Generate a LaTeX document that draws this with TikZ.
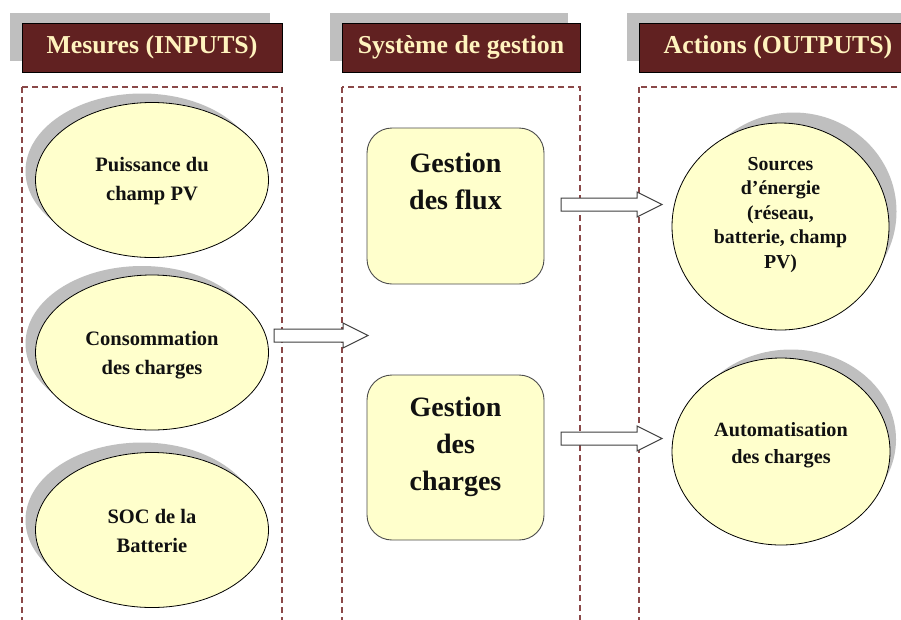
\documentclass[tikz,border=0pt]{standalone}
\usepackage{fontspec}
\setmainfont{Liberation Serif}
\usetikzlibrary{shapes.geometric,shadows}

\definecolor{hdrfill}{HTML}{612121}
\definecolor{hdrtext}{HTML}{FFF3BE}
\definecolor{shadowgray}{HTML}{BFBFBF}
\definecolor{framecol}{HTML}{8A4848}
\definecolor{cream}{HTML}{FFFFCC}
\definecolor{ink}{HTML}{111111}

\tikzset{
  header/.style={rectangle, fill=hdrfill, draw=black, line width=0.8pt,
    inner sep=0pt, minimum height=49pt, text=hdrtext,
    font=\bfseries\fontsize{25.8}{30}\selectfont},
  column/.style={draw=framecol, line width=1.4pt, dash pattern=on 6pt off 4pt},
  bubble/.style={ellipse, fill=cream, draw=black, line width=0.8pt, inner sep=0pt},
  bubbletext/.style={align=center, text=ink, font=\bfseries\fontsize{20.5}{29}\selectfont},
  gestbox/.style={rectangle, rounded corners=25pt, fill=cream, draw=black!70,
    line width=0.9pt, minimum width=177pt},
  gesttext/.style={align=center, text=ink, font=\bfseries\fontsize{28}{37}\selectfont},
  arrowline/.style={draw=black!75, fill=white, line width=1pt, line join=miter},
  pics/blockarrow/.style args={#1/#2}{code={
    \draw[arrowline] (0,-6.5) -- (#1,-6.5) -- (#1,-12.5) -- (#2,0)
      -- (#1,12.5) -- (#1,6.5) -- (0,6.5) -- cycle;}}
}

\begin{document}
\begin{tikzpicture}[x=1pt,y=-1pt]
\clip (0,0) rectangle (901,619);
\fill[white] (0,0) rectangle (901,619);

% column headers with their grey backing plates
\fill[shadowgray] (10,13) rectangle (270,61);
\fill[shadowgray] (330,13) rectangle (568,61);
\fill[shadowgray] (627,13) rectangle (905,61);
\node[header, minimum width=260pt] (hin)  at (152,47.5) {Mesures (INPUTS)};
\node[header, minimum width=238pt] (hsys) at (461,47.5) {Système de gestion};
\node[header, minimum width=278pt] (hout) at (778,47.5) {Actions (OUTPUTS)};

% dashed column frames
\draw[column] (22,87) rectangle (282,660);
\draw[column] (342,87) rectangle (580,660);
\draw[column] (639,87) rectangle (940,660);

% measured inputs, shadows thrown up and to the left
\fill[shadowgray] (142,171) ellipse [x radius=116.5, y radius=77.5];
\node[bubble, minimum width=233pt, minimum height=155pt] (pv) at (152,180) {};
\node[bubbletext] (pvt) at (152,181) {Puissance du\\champ PV};

\fill[shadowgray] (142,343.5) ellipse [x radius=116.5, y radius=77.5];
\node[bubble, minimum width=233pt, minimum height=155pt] (conso) at (152,352.5) {};
\node[bubbletext] (consot) at (152,355) {Consommation\\des charges};

\fill[shadowgray] (142,520) ellipse [x radius=116.5, y radius=77.5];
\node[bubble, minimum width=233pt, minimum height=155pt] (soc) at (152,530) {};
\node[bubbletext] (soct) at (152,531) {SOC de la\\Batterie};

% management blocks
\node[gestbox, minimum height=156pt] (flux) at (455.5,206) {};
\node[gesttext] (fluxt) at (455.5,181) {Gestion\\des flux};

\node[gestbox, minimum height=165pt] (charges) at (455.5,457.5) {};
\node[gesttext] (chargest) at (455.5,447) {Gestion\\des\\charges};

% output actions, each with a slightly smaller shadow thrown up and to the right
\fill[shadowgray] (793.5,211.5) ellipse [x radius=103, y radius=99];
\node[bubble, minimum width=217pt, minimum height=207pt] (src) at (780.5,226.5) {};
\node[bubbletext, font=\bfseries\fontsize{19.8}{24.5}\selectfont] (srct) at (780.5,215) {Sources\\d’énergie\\(réseau,\\batterie, champ\\PV)};

\fill[shadowgray] (791,439.5) ellipse [x radius=105, y radius=90];
\node[bubble, minimum width=218pt, minimum height=187pt] (auto) at (781,451.5) {};
\node[bubbletext, font=\bfseries\fontsize{20.2}{27}\selectfont] (autot) at (781,445) {Automatisation\\des charges};

% block arrows
\coordinate (a1) at (274,335.5);
\coordinate (a2) at (561,204.5);
\coordinate (a3) at (561,438.5);
\pic at (a1) {blockarrow=69/94};
\pic at (a2) {blockarrow=76/101};
\pic at (a3) {blockarrow=76/101};
\end{tikzpicture}
\end{document}
